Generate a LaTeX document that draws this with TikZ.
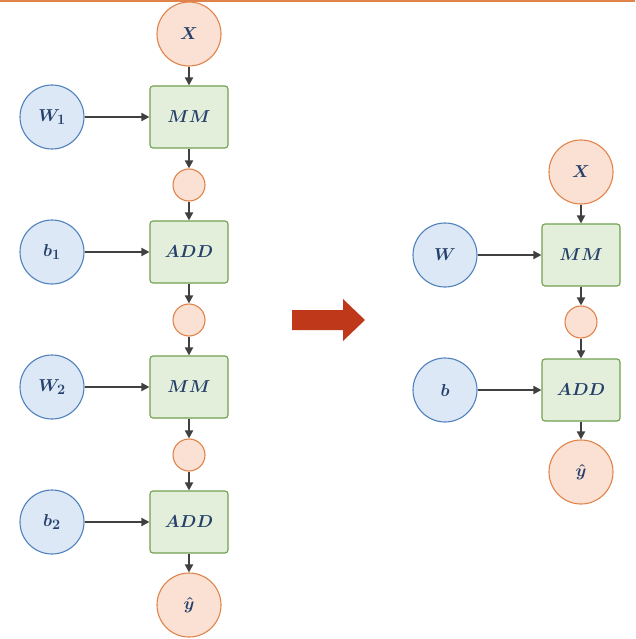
\documentclass[tikz,border=0pt]{standalone}
\usetikzlibrary{arrows.meta}
\definecolor{bF}{HTML}{DCE8F6}\definecolor{bD}{HTML}{4F81BD}
\definecolor{oF}{HTML}{FBE1D3}\definecolor{oD}{HTML}{E0834A}
\definecolor{gF}{HTML}{E3EFDA}\definecolor{gD}{HTML}{70A050}
\definecolor{tx}{HTML}{25406A}\definecolor{ar}{HTML}{404040}
\definecolor{rd}{HTML}{C0381A}
\begin{document}
\begin{tikzpicture}[x=1pt,y=-1pt,
 every node/.style={text=tx,font=\fontsize{19}{22}\selectfont\boldmath,line width=1.1pt},
 inp/.style={circle,draw=bD,fill=bF,minimum size=64pt,inner sep=0pt},
 io/.style={circle,draw=oD,fill=oF,minimum size=64pt,inner sep=0pt},
 mid/.style={circle,draw=oD,fill=oF,minimum size=32pt,inner sep=0pt},
 op/.style={rectangle,rounded corners=3pt,draw=gD,fill=gF,minimum width=78pt,minimum height=62pt},
 con/.style={draw=ar,line width=1.8pt,-{Triangle[length=8pt,width=8pt]}}]
\useasboundingbox (0,0) rectangle (635,639);
\fill[oD] (0,0) rectangle (635,2);
% left column
\node[io] (x1) at (189,34) {$X$};
\node[op] (mm1) at (189,117) {$MM$};
\node[mid] (h1) at (189,185) {};
\node[op] (add1) at (189,252) {$ADD$};
\node[mid] (h2) at (189,320) {};
\node[op] (mm2) at (189,387) {$MM$};
\node[mid] (h3) at (189,455) {};
\node[op] (add2) at (189,522) {$ADD$};
\node[io] (y1) at (189,605) {$\hat{y}$};
\node[inp] (w1) at (52,117) {$W_1$};
\node[inp] (b1) at (52,252) {$b_1$};
\node[inp] (w2) at (52,387) {$W_2$};
\node[inp] (b2) at (52,522) {$b_2$};
\foreach \a/\b in {x1/mm1,mm1/h1,h1/add1,add1/h2,h2/mm2,mm2/h3,h3/add2,add2/y1,w1/mm1,b1/add1,w2/mm2,b2/add2}
  \draw[con] (\a) -- (\b);
% right column
\node[io] (x2) at (581,172) {$X$};
\node[op] (mm3) at (581,255) {$MM$};
\node[mid] (h4) at (581,322) {};
\node[op] (add3) at (581,390) {$ADD$};
\node[io] (y2) at (581,472) {$\hat{y}$};
\node[inp] (w) at (445,255) {$W$};
\node[inp] (b) at (445,390) {$b$};
\foreach \a/\b in {x2/mm3,mm3/h4,h4/add3,add3/y2,w/mm3,b/add3}
  \draw[con] (\a) -- (\b);
% big arrow
\fill[rd] (292,310) -- (343,310) -- (343,299) -- (365,320) -- (343,341) -- (343,330) -- (292,330) -- cycle;
\end{tikzpicture}
\end{document}
